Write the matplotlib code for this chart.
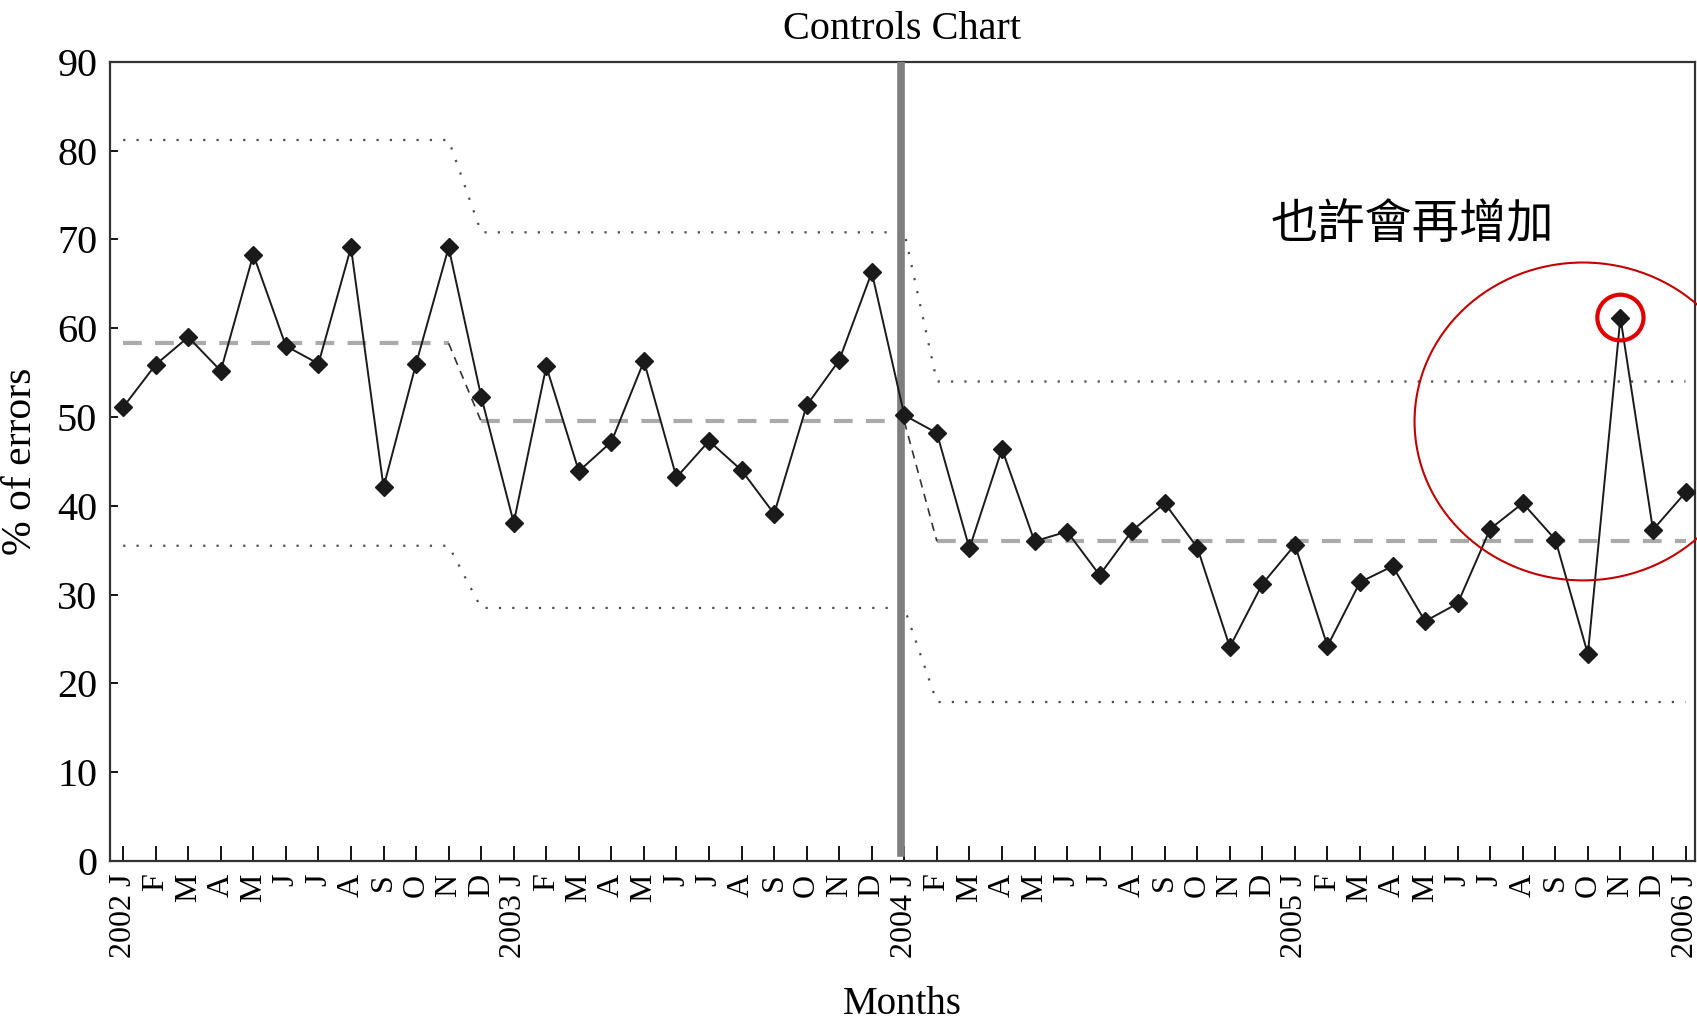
import numpy as np
import matplotlib.pyplot as plt
from matplotlib.patches import Ellipse

# 数据：2002年1月 ~ 2006年1月，每月错误率(%)
month_letters = ['J', 'F', 'M', 'A', 'M', 'J', 'J', 'A', 'S', 'O', 'N', 'D']
years = [2002, 2003, 2004, 2005, 2006]

values = [51.1, 55.9, 59.0, 55.2, 68.3, 58.0, 56.0, 69.1, 42.1, 56.0, 69.1, 52.3,
          38.1, 55.7, 43.9, 47.2, 56.3, 43.2, 47.3, 44.0, 39.1, 51.3, 56.4, 66.3,
          50.2, 48.2, 35.2, 46.4, 36.0, 37.1, 32.2, 37.2, 40.3, 35.3, 24.1, 31.2,
          35.6, 24.2, 31.4, 33.2, 27.0, 29.0, 37.4, 40.3, 36.2, 23.3, 61.2, 37.3,
          41.5]

# 控制限：三个阶段
period_start = [0, 11, 25]
period_end = [10, 24, 48]
ucl_levels = [81.2, 70.8, 54.0]
cl_levels = [58.3, 49.5, 36.0]
lcl_levels = [35.5, 28.5, 17.9]

shift_month = 24      # 2004 J
flagged_month = 46    # 2005 N

# x 轴标签
tick_labels = []
for y in years:
    for m in month_letters:
        if len(tick_labels) == len(values):
            break
        tick_labels.append(f'{y} {m}' if m == 'J' and len(tick_labels) % 12 == 0 else m)

plt.rcParams['font.family'] = ['Liberation Serif', 'DejaVu Serif']

fig = plt.figure(figsize=(16.97, 10.24), dpi=100)
ax = fig.add_axes([0.0647, 0.1592, 0.9341, 0.7804])

x = np.arange(len(values))


def step_line(levels):
    xs, ys = [], []
    for s, e, v in zip(period_start, period_end, levels):
        xs += [s, e]
        ys += [v, v]
    return xs, ys


# 控制限 (点线)
for levels in (ucl_levels, lcl_levels):
    xs, ys = step_line(levels)
    ax.plot(xs, ys, color='#4d4d4d', lw=1.6, ls=(0, (1, 5)), zorder=2)

# 中心线 (虚线)
for s, e, v in zip(period_start, period_end, cl_levels):
    ax.plot([s, e], [v, v], color='#aaaaaa', lw=3, ls=(0, (4.5, 3.2)), zorder=2)
for i in range(len(cl_levels) - 1):
    ax.plot([period_end[i], period_start[i + 1]], [cl_levels[i], cl_levels[i + 1]],
            color='#333333', lw=1.2, ls=(0, (5, 4)), zorder=2)

# 阶段分隔线
ax.axvline(shift_month - 0.1, ymin=0.01, ymax=1, color='#7f7f7f', lw=5.5, zorder=3)

# 数据折线
ax.plot(x, values, color='#1a1a1a', lw=1.4, marker='D', ms=9.5,
        mfc='#1a1a1a', mec='#1a1a1a', zorder=5)

ax.set_xlim(-0.41, 48.29)
ax.set_ylim(0, 90)
ax.set_yticks(range(0, 91, 10))
ax.set_xticks(x)
ax.set_xticklabels(tick_labels, rotation=90, fontsize=23)
ax.tick_params(axis='x', direction='in', length=11, width=1.3, pad=9, top=False)
ax.tick_params(axis='y', direction='in', length=6, width=1.3, pad=9, labelsize=29, right=False)
for sp in ax.spines.values():
    sp.set_linewidth(1.6)
    sp.set_color('#333333')

ax.set_title('Controls Chart', fontsize=29, y=1.04, pad=0, va='center')
ax.set_ylabel('% of errors', fontsize=30)
ax.yaxis.label.set_va('center')
ax.yaxis.set_label_coords(-0.056, 0.5)
ax.set_xlabel('Months', fontsize=28)
ax.xaxis.label.set_va('center')
ax.xaxis.set_label_coords(0.5, -0.179)

# 标注
ax.add_patch(Ellipse((44.85, 49.5), 10.35, 35.8, fill=False, ec='#c00000', lw=1.5,
                     clip_on=False, zorder=6))
ax.add_patch(Ellipse((flagged_month, values[flagged_month]), 1.42, 5.15, fill=False,
                     ec='#e00000', lw=3, clip_on=False, zorder=6))
ax.text(39.6, 71.7, '也許會再增加', fontsize=34, ha='center', va='center',
        family=['Noto Sans CJK TC', 'DejaVu Sans'])

fig.savefig('out.png', dpi=100)
